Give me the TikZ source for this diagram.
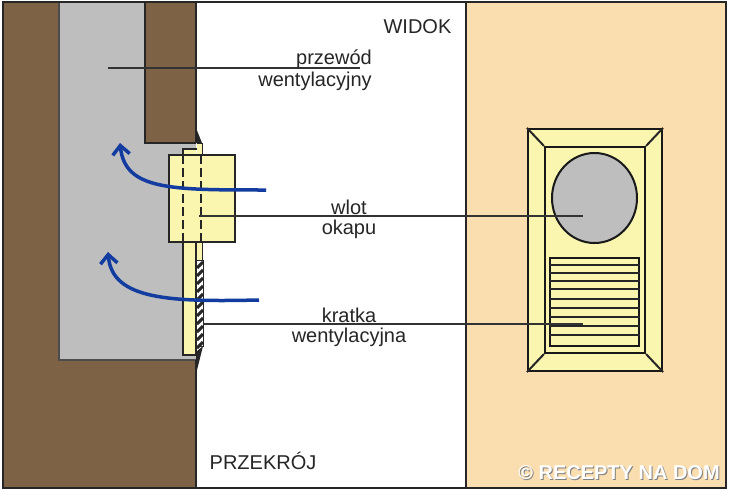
\documentclass[tikz,border=0pt]{standalone}
\usepackage{fontspec}
\setmainfont{Liberation Sans}
\usetikzlibrary{arrows.meta}
\usetikzlibrary{shapes.geometric}
\definecolor{wallbrown}{RGB}{126,98,70}
\definecolor{ductgray}{RGB}{190,190,190}
\definecolor{ventyellow}{RGB}{250,245,175}
\definecolor{panelbeige}{RGB}{251,222,176}
\definecolor{airblue}{RGB}{18,60,160}
\begin{document}
\begin{tikzpicture}[x=1pt,y=-1pt,
		mylabel/.style={font=\fontsize{20}{24}\selectfont, inner sep=0pt, text=black!85},
		myline/.style={line width=2pt, draw=black!85},
		mythin/.style={line width=1.2pt, draw=black!80},
		myair/.style={line width=3.5pt, draw=airblue, -{Straight Barb[length=9pt,width=17pt]}}
	]
	\useasboundingbox (0,0) rectangle (730,492);
	\fill[white] (0,0) rectangle (730,492);

	% tlo
	\fill[panelbeige] (466,3) rectangle (725,487);
	\fill[wallbrown] (4,3) rectangle (196,487);
	\fill[ductgray] (59,3) -- (145,3) -- (145,143) -- (196,143) -- (196,360) -- (59,360) -- cycle;
	\draw[line width=1.2pt, draw=black!70] (59,3) -- (59,360) -- (196,360);
	\draw[myline] (145,3) -- (145,143) -- (196,143);
	\draw[myline] (196,3) -- (196,143);
	\draw[myline] (196,360) -- (196,487);
	\draw[myline] (466,3) -- (466,487);

	% przekroj
	\fill[black!85] (196,128) -- (202,143) -- (196,143) -- cycle;
	\fill[black!85] (196,374) -- (203,346) -- (196,352) -- cycle;
	\fill[ventyellow] (183,149) rectangle (196,355);
	\draw[myline] (183,242) -- (183,355) -- (196,355) -- (196,242);
	\draw[myline] (183,155) -- (183,149) -- (197,149);
	\draw[line width=1pt, draw=black!85, fill=ventyellow] (197,143) -- (202,143) -- (202,260) -- (197,260);
	\node[draw=black!85, line width=2pt, fill=ventyellow, minimum width=66pt, minimum height=87pt, inner sep=0pt] (box) at (201.5,198.5) {};
	\draw[myline, dash pattern=on 9pt off 4pt] (183,155) -- (183,242);
	\draw[myline, dash pattern=on 9pt off 4pt] (201,155) -- (201,242);
	\draw[line width=1pt, draw=black!85, fill=white] (196.5,260) rectangle (203,346);
	\foreach \y in {262,270,...,342} {
		\draw[line width=3pt, draw=black!85] (197,\y+6) -- (203,\y);
	}

	% widok
	\node[draw=black!90, line width=2.2pt, fill=ventyellow, minimum width=134pt, minimum height=242pt, inner sep=0pt] (outer) at (595,250) {};
	\node[draw=black!90, line width=2.2pt, fill=ventyellow, minimum width=100pt, minimum height=206pt, inner sep=0pt] (inner) at (595,250) {};
	\draw[myline] (outer.north west) -- (inner.north west);
	\draw[myline] (outer.north east) -- (inner.north east);
	\draw[myline] (outer.south west) -- (inner.south west);
	\draw[myline] (outer.south east) -- (inner.south east);
	\node[draw=black!90, line width=2pt, fill=ductgray, ellipse, minimum width=85pt, minimum height=90pt, inner sep=0pt] (hole) at (594.5,198) {};
	\node[draw=black!90, line width=2pt, fill=ventyellow, minimum width=89pt, minimum height=88pt, inner sep=0pt] (grille) at (594.5,302) {};
	\foreach \y in {265,273,281,289,299,308,317,326,335} {
		\draw[myline] (grille.west |- 0,\y) -- (grille.east |- 0,\y);
	}

	% odnosniki
	\coordinate (ductend) at (108,68);
	\coordinate (ductlabel) at (360,68);
	\coordinate (inletstart) at (199,216);
	\coordinate (inletend) at (583,216);
	\coordinate (gridstart) at (203,324);
	\coordinate (gridend) at (583,324);
	\draw[mythin] (ductend) -- (ductlabel);
	\draw[mythin] (inletstart) -- (inletend);
	\draw[mythin] (gridstart) -- (gridend);

	% powietrze
	\coordinate (airstarta) at (266,190);
	\coordinate (airenda) at (120,143);
	\coordinate (airstartb) at (259,300);
	\coordinate (airendb) at (108,252);
	\draw[myair] (airstarta) .. controls (170,190) and (125,190) .. (airenda);
	\draw[myair] (airstartb) .. controls (170,302) and (112,300) .. (airendb);

	% opisy
	\node[mylabel] (widok) at (417.5,27) {WIDOK};
	\node[mylabel] (przekroj) at (263,461) {PRZEKRÓJ};
	\node[mylabel] (przewod) at (334,59) {przewód};
	\node[mylabel] (wentylacyjny) at (315,81) {wentylacyjny};
	\node[mylabel] (wlot) at (349,207) {wlot};
	\node[mylabel] (okapu) at (349,229) {okapu};
	\node[mylabel] (kratka) at (349,315) {kratka};
	\node[mylabel] (wentylacyjna) at (349,337) {wentylacyjna};

	\node[font=\fontsize{20}{24}\selectfont\bfseries, text=black!50, inner sep=0pt] (markshadow) at (620,474) {© RECEPTY NA DOM};
	\node[font=\fontsize{20}{24}\selectfont\bfseries, text=white, inner sep=0pt] (mark) at (619,473) {© RECEPTY NA DOM};

	% ramka
	\draw[line width=2pt, draw=black!85] (3,2) rectangle (726,488);
\end{tikzpicture}
\end{document}
